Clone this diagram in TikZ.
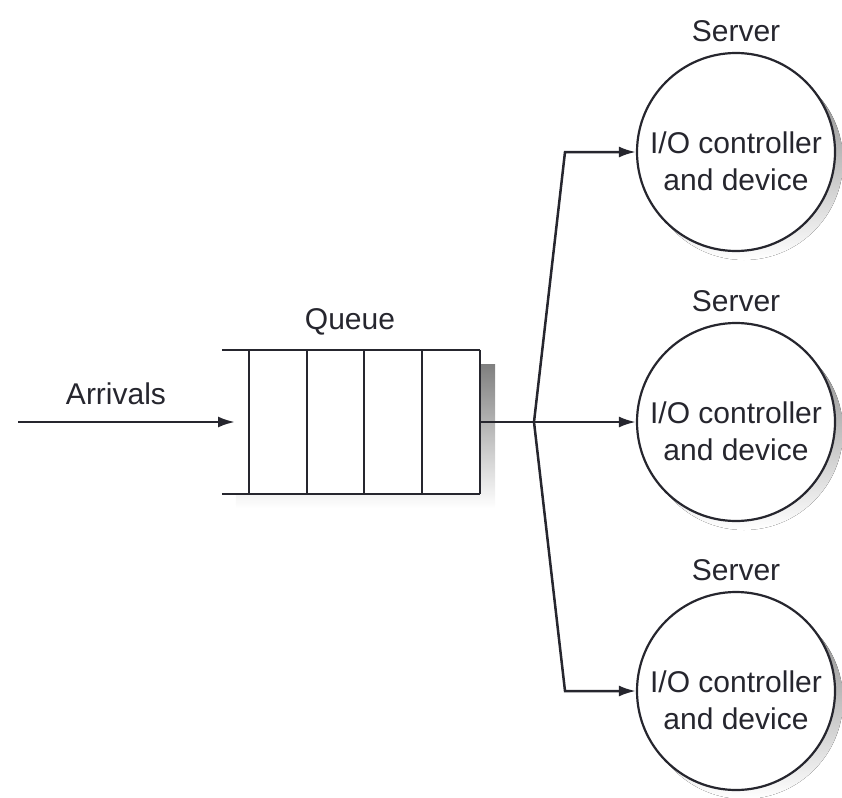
\documentclass[tikz,border=0pt]{standalone}
\usepackage{fontspec}
\setmainfont{Liberation Sans}
\usetikzlibrary{arrows.meta,calc}
\definecolor{ink}{HTML}{26262E}
\definecolor{shade}{HTML}{9E9EA6}
\begin{document}
\begin{tikzpicture}[x=1pt,y=-1pt,
  line/.style={draw=ink, line width=2.5pt},
  arr/.style={line, -{Latex[length=17pt,width=11pt]}},
  lbl/.style={text=ink, font=\fontsize{30}{37}\selectfont, inner sep=0pt},
  server/.style={circle, draw=ink, line width=2.2pt, fill=white, minimum size=198pt, inner sep=0pt},
  qbox/.style={minimum width=258pt, minimum height=144pt, inner sep=0pt}
]
\useasboundingbox (0,0) rectangle (842,797);

% queue
\node[qbox] (q) at (351,422) {};
\fill[shade] ($(q.north west)+(14,15)$) rectangle ($(q.south east)+(15,14)$);
\fill[white] (q.north west) rectangle (q.south east);
\draw[line] (q.north west) -- (q.north east);
\draw[line] (q.south west) -- (q.south east);
\foreach \dx in {27,85,142,200,258}
  \draw[line] ($(q.north west)+(\dx,0)$) -- ($(q.south west)+(\dx,0)$);
\node[lbl] (ql) at (350,322) {Queue};

% arrivals
\coordinate (a0) at (18,422);
\coordinate (qin) at (235,422);
\draw[arr] (a0) -- (qin);
\node[lbl] (al) at (116,394) {Arrivals};

% servers (shadows first)
\foreach \cy in {152,422,691}
  \fill[shade] (744,\cy+9) circle (99pt);
\node[server] (s1) at (736,152) {};
\node[server] (s2) at (736,422) {};
\node[server] (s3) at (736,691) {};
\node[lbl, align=center] (t1) at ($(s1)+(0,9)$) {I/O controller\\and device};
\node[lbl, align=center] (t2) at ($(s2)+(0,9)$) {I/O controller\\and device};
\node[lbl, align=center] (t3) at ($(s3)+(0,9)$) {I/O controller\\and device};
\node[lbl] (l1) at (736,31) {Server};
\node[lbl] (l2) at (736,301) {Server};
\node[lbl] (l3) at (736,570) {Server};

% connectors
\coordinate (br) at (534,422);
\coordinate (b1) at (565,152);
\coordinate (b3) at (565,691);
\draw[line] (q.east) -- (br);
\draw[arr] (br) -- (b1) -- (s1);
\draw[arr] (br) -- (s2);
\draw[arr] (br) -- (b3) -- (s3);
\end{tikzpicture}
\end{document}
